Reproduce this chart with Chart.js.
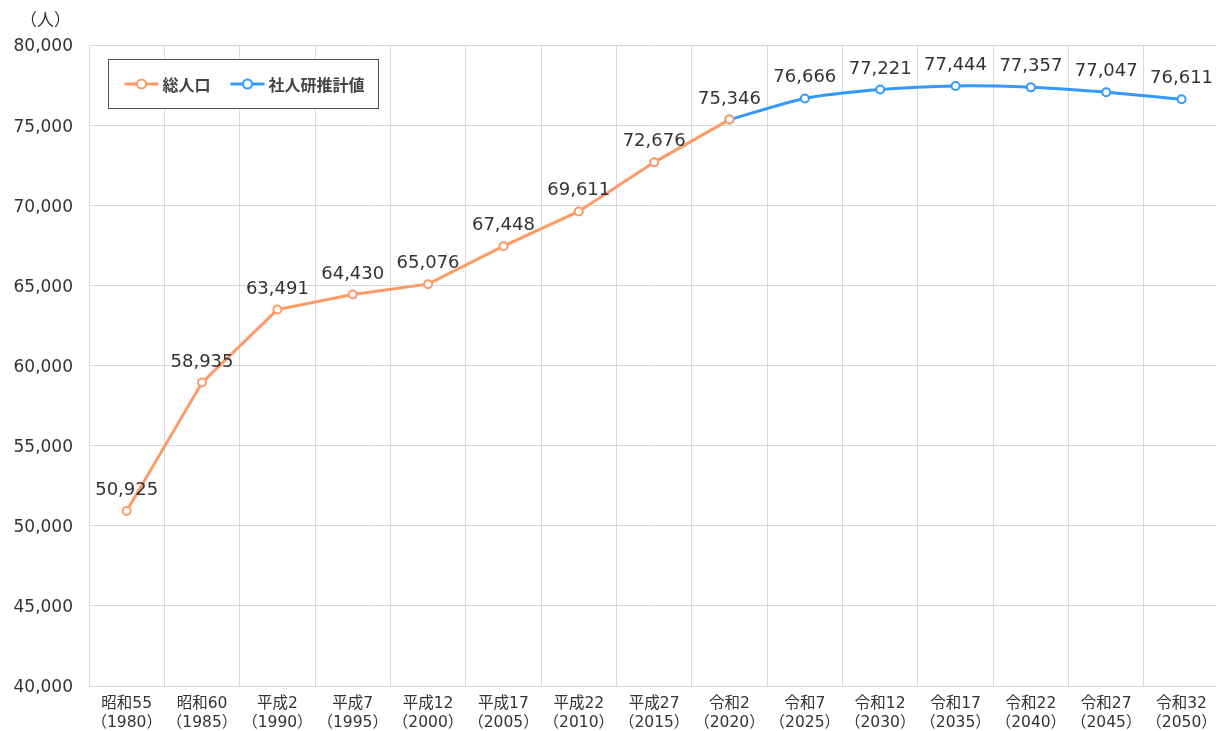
<!DOCTYPE html>
<html lang="ja">
<head>
<meta charset="UTF-8">
<title>総人口の推移</title>
<script src="https://cdn.jsdelivr.net/npm/chart.js"></script>
<style>
    body { margin: 0; background: #fff; overflow: hidden; }
    #wrap { width: 1216px; height: 731px; overflow: hidden; }
</style>
</head>
<body>
<div id="wrap">
    <canvas id="popChart" width="1226" height="731"></canvas>
</div>
<script>
    // 和暦と西暦のラベル
    const eraLabels = ['昭和55', '昭和60', '平成2', '平成7', '平成12', '平成17', '平成22', '平成27',
        '令和2', '令和7', '令和12', '令和17', '令和22', '令和27', '令和32'];
    const yearLabels = ['1980', '1985', '1990', '1995', '2000', '2005', '2010', '2015',
        '2020', '2025', '2030', '2035', '2040', '2045', '2050'];

    // 総人口（実績）
    const totalPop = [50925, 58935, 63491, 64430, 65076, 67448, 69611, 72676, 75346,
        null, null, null, null, null, null];
    // 社人研推計値
    const estimatePop = [null, null, null, null, null, null, null, null, 75346,
        76666, 77221, 77444, 77357, 77047, 76611];

    const yTicks = { min: 40000, max: 80000, step: 5000 };

    const orange = '#ff9966';
    const blue = '#3399ff';
    const textColor = '#333';
    const fontFamily = '"DejaVu Sans", "Noto Sans CJK JP", sans-serif';

    const labels = eraLabels.map((e, i) => [e, '（' + yearLabels[i] + '）']);

    // 値ラベル
    const valueLabels = {
        id: 'valueLabels',
        afterDatasetsDraw(chart) {
            const ctx = chart.ctx;
            ctx.save();
            ctx.font = '18px ' + fontFamily;
            ctx.fillStyle = textColor;
            ctx.textAlign = 'center';
            ctx.textBaseline = 'alphabetic';
            chart.data.datasets.forEach((ds, di) => {
                const meta = chart.getDatasetMeta(di);
                meta.data.forEach((pt, i) => {
                    const v = ds.data[i];
                    if (v == null) return;
                    if (di === 1 && totalPop[i] != null) return;
                    ctx.fillText(v.toLocaleString('en-US'), pt.x, pt.y - 16);
                });
            });
            ctx.restore();
        }
    };

    // 凡例と単位
    const boxLegend = {
        id: 'boxLegend',
        afterDraw(chart) {
            const ctx = chart.ctx;
            const a = chart.chartArea;
            ctx.save();
            ctx.font = '17px ' + fontFamily;
            ctx.fillStyle = textColor;
            ctx.textAlign = 'left';
            ctx.textBaseline = 'middle';
            ctx.fillText('（人）', 20, 22);

            const bx = a.left + 19.5, by = a.top + 14.5;
            ctx.fillStyle = '#fff';
            ctx.fillRect(bx, by, 270, 49);
            ctx.strokeStyle = '#555';
            ctx.lineWidth = 1;
            ctx.strokeRect(bx, by, 270, 49);

            const cy = by + 24.5;
            const items = [
                { color: orange, text: '総人口', x: bx + 16 },
                { color: blue, text: '社人研推計値', x: bx + 122 }
            ];
            ctx.font = 'bold 16px "Noto Sans CJK JP", sans-serif';
            items.forEach(it => {
                ctx.strokeStyle = it.color;
                ctx.lineWidth = 3;
                ctx.beginPath();
                ctx.moveTo(it.x, cy);
                ctx.lineTo(it.x + 34, cy);
                ctx.stroke();
                ctx.beginPath();
                ctx.arc(it.x + 17, cy, 4.5, 0, Math.PI * 2);
                ctx.fillStyle = '#fff';
                ctx.fill();
                ctx.lineWidth = 2;
                ctx.stroke();
                ctx.fillStyle = '#444';
                ctx.fillText(it.text, it.x + 38, cy + 1);
            });
            ctx.restore();
        }
    };

    new Chart(document.getElementById('popChart').getContext('2d'), {
        type: 'line',
        data: {
            labels: labels,
            datasets: [{
                label: '総人口',
                data: totalPop,
                borderColor: orange,
                backgroundColor: '#fff',
                borderWidth: 3,
                pointRadius: 4,
                pointBorderWidth: 2,
                pointBackgroundColor: '#fff',
                pointBorderColor: orange,
                tension: 0,
                order: 0
            }, {
                label: '社人研推計値',
                data: estimatePop,
                borderColor: blue,
                backgroundColor: '#fff',
                borderWidth: 3,
                pointRadius: 4,
                pointBorderWidth: 2,
                pointBackgroundColor: '#fff',
                pointBorderColor: blue,
                tension: 0.25,
                order: 1
            }]
        },
        options: {
            responsive: false,
            animation: false,
            layout: { padding: { top: 45, right: 1, left: 0, bottom: 0 } },
            plugins: {
                legend: { display: false },
                tooltip: { enabled: false }
            },
            scales: {
                x: {
                    offset: true,
                    grid: { offset: true, color: '#d9d9d9', drawTicks: false },
                    border: { color: '#d9d9d9' },
                    ticks: {
                        color: textColor,
                        padding: 9,
                        maxRotation: 0,
                        autoSkip: false,
                        font: { family: fontFamily, size: 15.5, lineHeight: 1.22 }
                    },
                    afterFit(s) { s.height = 45; }
                },
                y: {
                    min: yTicks.min,
                    max: yTicks.max,
                    grid: { color: '#d9d9d9', drawTicks: false },
                    border: { color: '#d9d9d9' },
                    ticks: {
                        stepSize: yTicks.step,
                        color: textColor,
                        padding: 16,
                        labelOffset: 2,
                        font: { family: fontFamily, size: 17 },
                        callback: v => v.toLocaleString('en-US')
                    },
                    afterFit(s) { s.width = 89; }
                }
            }
        },
        plugins: [valueLabels, boxLegend]
    });
</script>
</body>
</html>
